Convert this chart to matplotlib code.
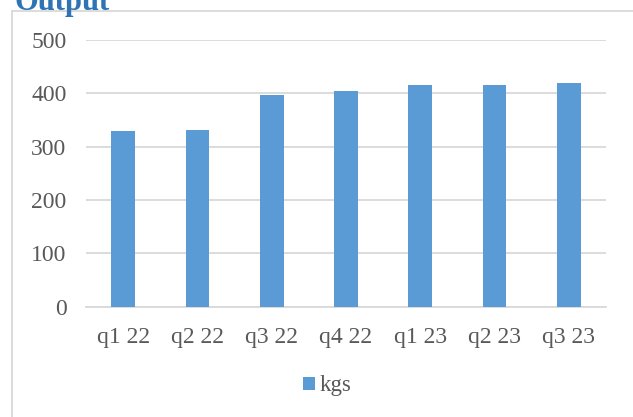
import matplotlib
matplotlib.use("Agg")
import matplotlib.pyplot as plt
from matplotlib.lines import Line2D

categories = ["q1 22", "q2 22", "q3 22", "q4 22", "q1 23", "q2 23", "q3 23"]
kgs = [329, 331, 397, 405, 415, 416, 420]
y_ticks = [0, 100, 200, 300, 400, 500]

W, H = 633, 417
DPI = 100
plt.rcParams["font.family"] = ["Liberation Serif", "DejaVu Serif"]

fig = plt.figure(figsize=(W / DPI, H / DPI), dpi=DPI)
fig.patch.set_facecolor("white")

# plot area in pixel units
left, right, top, bottom = 86, 606, 40, 306.7
ax = fig.add_axes([left / W, 1 - bottom / H, (right - left) / W, (bottom - top) / H])

grid_c = "#D9D9D9"
text_c = "#595959"
bar_c = "#5B9BD5"

x = range(len(categories))
ax.bar(x, kgs, width=0.32, color=bar_c, label="kgs", zorder=3)
ax.set_xlim(-0.5, len(categories) - 0.5)
ax.set_ylim(0, 500)
ax.set_yticks(y_ticks)
ax.set_xticks(list(x))
ax.set_xticklabels(categories)

for s in ["top", "right", "left"]:
    ax.spines[s].set_visible(False)
ax.spines["bottom"].set_color(grid_c)
ax.spines["bottom"].set_linewidth(1.3)
ax.yaxis.grid(True, color=grid_c, linewidth=1.3, zorder=0)
ax.set_axisbelow(True)
ax.tick_params(axis="both", length=0, labelsize=17, labelcolor=text_c)
ax.tick_params(axis="y", pad=14)
ax.tick_params(axis="x", pad=14.5)

# legend below the axis labels
leg = fig.legend(loc="center", bbox_to_anchor=(327 / W, 1 - 386 / H),
                 frameon=False, fontsize=16.5, handlelength=0.52,
                 handleheight=0.52, handletextpad=0.22, labelcolor=text_c)

# chart frame (left and top edges visible)
fig.add_artist(Line2D([12 / W, 12 / W], [0, 1 - 10.7 / H], color=grid_c, lw=1.3))
fig.add_artist(Line2D([12 / W, 1], [1 - 10.7 / H, 1 - 10.7 / H], color=grid_c, lw=1.3))

# heading
fig.text(15 / W, 1 - 10 / H, "Output", color="#2E74B5", fontsize=22,
         fontweight="bold", va="baseline", ha="left")

fig.savefig("out.png", dpi=DPI)
